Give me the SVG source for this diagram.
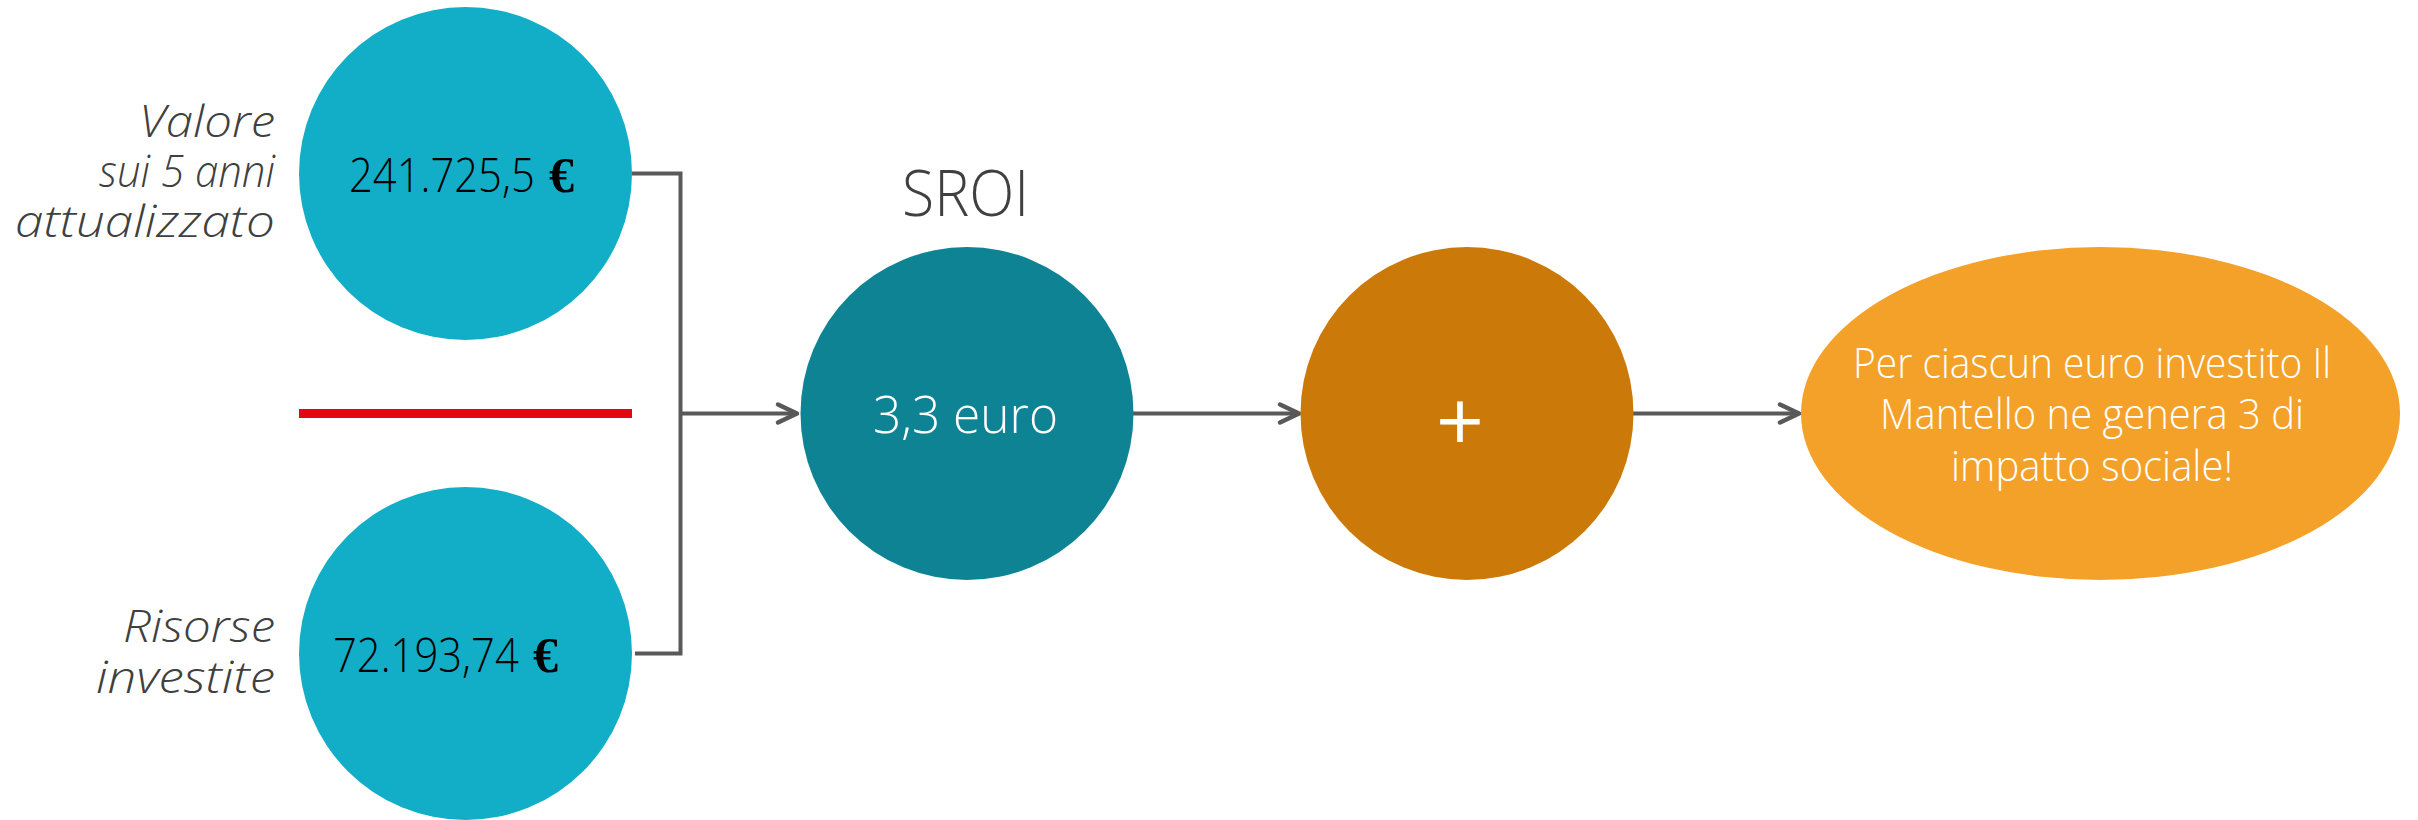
<svg xmlns="http://www.w3.org/2000/svg" width="2418" height="820" viewBox="0 0 2418 820">
  <defs>
    <marker id="arrow" markerUnits="userSpaceOnUse" markerWidth="30" markerHeight="30" viewBox="-24 -13 30 26" refX="0" refY="0" orient="auto">
      <path d="M-19,-9 L0,0 L-19,9" fill="none" stroke="#595959" stroke-width="4.5" stroke-linecap="round" stroke-linejoin="round"/>
    </marker>
    <style>
      .lbl { font-family: "Open Sans", "Liberation Sans", sans-serif; font-style: italic; font-weight: 300; font-size: 44px; fill: #404040; text-anchor: end; }
      .num { font-family: "Open Sans", "Liberation Sans", sans-serif; font-weight: 300; font-size: 48px; fill: #000000; }
      .euro { font-family: "Liberation Serif", serif; font-weight: bold; font-size: 50px; fill: #000000; }
      .wht { font-family: "Open Sans", "Liberation Sans", sans-serif; font-weight: 300; fill: #ffffff; text-anchor: middle; }
      .conn { fill: none; stroke: #595959; stroke-width: 4; }
    </style>
  </defs>
  <rect width="2418" height="820" fill="#ffffff"/>

  <g id="connectors">
    <path class="conn" d="M632,173.5 H680.5 V653.5 H635"/>
    <path class="conn" d="M680.5,413.5 H797" marker-end="url(#arrow)"/>
    <path class="conn" d="M1133,413.5 H1299" marker-end="url(#arrow)"/>
    <path class="conn" d="M1633,413.5 H1799" marker-end="url(#arrow)"/>
  </g>

  <g id="node-valore">
    <circle cx="465.5" cy="173.5" r="166.5" fill="#12AEC7"/>
    <text class="num" transform="translate(349,192) scale(0.86,1)" textLength="216" lengthAdjust="spacingAndGlyphs">241.725,5</text>
    <text class="euro" x="549" y="192">€</text>
  </g>
  <g id="label-valore">
    <text class="lbl"><tspan x="275" y="137" textLength="136" lengthAdjust="spacingAndGlyphs">Valore</tspan><tspan x="275" y="187" textLength="176" lengthAdjust="spacingAndGlyphs">sui 5 anni</tspan><tspan x="275" y="237" textLength="260" lengthAdjust="spacingAndGlyphs">attualizzato</tspan></text>
  </g>

  <g id="divider">
    <rect x="299" y="409" width="333" height="9" fill="#E30613"/>
  </g>

  <g id="node-risorse">
    <circle cx="465.5" cy="653.5" r="166.5" fill="#12AEC7"/>
    <text class="num" transform="translate(333,672) scale(0.86,1)" textLength="216" lengthAdjust="spacingAndGlyphs">72.193,74</text>
    <text class="euro" x="533" y="672">€</text>
  </g>
  <g id="label-risorse">
    <text class="lbl"><tspan x="275" y="642" textLength="152" lengthAdjust="spacingAndGlyphs">Risorse</tspan><tspan x="275" y="693" textLength="179" lengthAdjust="spacingAndGlyphs">investite</tspan></text>
  </g>

  <g id="node-sroi">
    <text x="965.5" y="216" text-anchor="middle" font-family="'Open Sans', 'Liberation Sans', sans-serif" font-weight="300" font-size="64" fill="#404040" textLength="127" lengthAdjust="spacingAndGlyphs">SROI</text>
    <circle cx="967" cy="413.5" r="166.5" fill="#0E8394"/>
    <text class="wht" x="965.5" y="433" font-size="52" textLength="185" lengthAdjust="spacingAndGlyphs">3,3 euro</text>
  </g>

  <g id="node-plus">
    <circle cx="1467" cy="413.5" r="166.5" fill="#CB7A09"/>
    <text x="1460" y="451" text-anchor="middle" font-family="'Open Sans', 'Liberation Sans', sans-serif" font-weight="400" font-size="84" fill="#ffffff">+</text>
  </g>

  <g id="node-result">
    <ellipse cx="2100.5" cy="413.5" rx="299.5" ry="166.5" fill="#F4A12A"/>
    <text class="wht" font-size="42"><tspan x="2092" y="378" textLength="478" lengthAdjust="spacingAndGlyphs">Per ciascun euro investito Il</tspan><tspan x="2092" y="429" textLength="424" lengthAdjust="spacingAndGlyphs">Mantello ne genera 3 di</tspan><tspan x="2092" y="481" textLength="282" lengthAdjust="spacingAndGlyphs">impatto sociale!</tspan></text>
  </g>
</svg>
